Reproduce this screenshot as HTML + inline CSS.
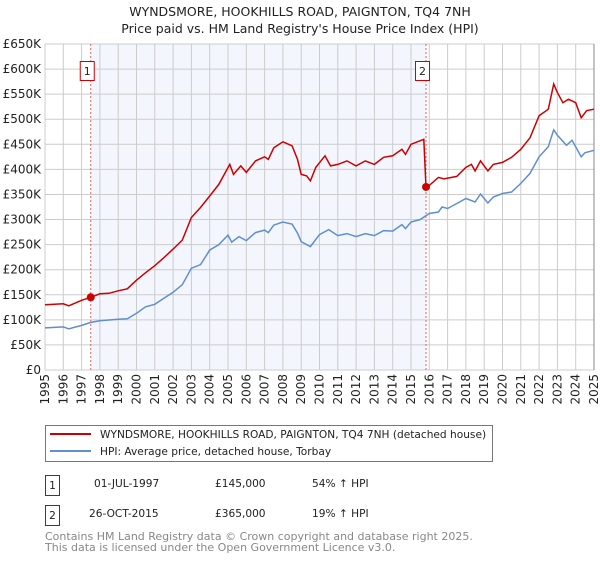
<!DOCTYPE html>
<html><head><meta charset="utf-8"><style>
body{margin:0;background:#fff;font-family:"DejaVu Sans","Liberation Sans",sans-serif;}
svg text{font-family:"DejaVu Sans","Liberation Sans",sans-serif;}
</style></head><body>
<svg id="c" width="600" height="560" viewBox="0 0 600 560" xmlns="http://www.w3.org/2000/svg">
<text x="300" y="16" text-anchor="middle" font-size="12.5" fill="#222">WYNDSMORE, HOOKHILLS ROAD, PAIGNTON, TQ4 7NH</text>
<text x="300" y="33" text-anchor="middle" font-size="12.5" fill="#222">Price paid vs. HM Land Registry's House Price Index (HPI)</text>
<g id="plot"></g>
<g>
<rect x="45.5" y="425.5" width="447" height="36" fill="#fff" stroke="#777"/>
<line x1="50" y1="434" x2="91" y2="434" stroke="#cc0000" stroke-width="2"/>
<text x="100" y="438" font-size="10.6" fill="#222">WYNDSMORE, HOOKHILLS ROAD, PAIGNTON, TQ4 7NH (detached house)</text>
<line x1="50" y1="451" x2="91" y2="451" stroke="#5f8fd0" stroke-width="2"/>
<text x="100" y="455" font-size="10.6" fill="#222">HPI: Average price, detached house, Torbay</text>
</g>
<g font-size="10.6" fill="#222">
<rect x="45.5" y="475.5" width="14" height="20" fill="#fff" stroke="#cc0000"/>
<text x="52.5" y="489" text-anchor="middle">1</text>
<text x="94" y="487">01-JUL-1997</text><text x="215" y="487">£145,000</text><text x="312" y="487">54% ↑ HPI</text>
<rect x="45.5" y="505.5" width="14" height="20" fill="#fff" stroke="#cc0000"/>
<text x="52.5" y="519" text-anchor="middle">2</text>
<text x="89" y="517">26-OCT-2015</text><text x="215" y="517">£365,000</text><text x="312" y="517">19% ↑ HPI</text>
</g>
<text x="45" y="540" font-size="11" fill="#888">Contains HM Land Registry data © Crown copyright and database right 2025.</text>
<text x="45" y="551" font-size="11" fill="#888">This data is licensed under the Open Government Licence v3.0.</text>
</svg>
<script>
const hpiDates=[1995,1996,1996.3,1997,1997.5,1998,1999,1999.5,2000,2000.5,2001,2001.5,2002,2002.5,2003,2003.5,2004,2004.5,2005,2005.2,2005.6,2006,2006.5,2007,2007.2,2007.5,2008,2008.5,2008.8,2009,2009.5,2010,2010.5,2011,2011.5,2012,2012.5,2013,2013.5,2014,2014.5,2014.7,2015,2015.5,2016,2016.5,2016.7,2017,2017.5,2018,2018.5,2018.8,2019.2,2019.5,2020,2020.5,2021,2021.5,2022,2022.5,2022.8,2023,2023.5,2023.8,2024,2024.3,2024.5,2025];
const hpiValues=[84,86,82,89,95,98,101,102,113,126,131,143,155,170,203,210,239,250,269,255,266,258,274,279,274,289,295,291,273,256,246,270,280,268,272,266,272,268,278,277,290,282,295,300,312,315,325,322,332,342,335,351,333,345,352,355,372,392,425,445,479,468,448,458,445,425,433,438];
const priceDates=[1995,1996,1996.3,1997,1997.5,1998,1998.5,1999,1999.5,2000,2000.5,2001,2001.5,2002,2002.5,2003,2003.5,2004,2004.5,2004.9,2005.1,2005.3,2005.7,2006,2006.5,2007,2007.2,2007.5,2008,2008.5,2008.8,2009,2009.3,2009.5,2009.8,2010.3,2010.6,2011,2011.5,2012,2012.5,2013,2013.5,2014,2014.5,2014.7,2015,2015.7,2015.82,2016,2016.5,2016.8,2017.5,2018,2018.3,2018.5,2018.8,2019.2,2019.5,2020,2020.5,2021,2021.5,2022,2022.5,2022.8,2023,2023.3,2023.6,2024,2024.3,2024.6,2025];
const priceValues=[130,132,128,139,145,152,153,158,162,179,194,208,224,241,259,304,324,347,370,397,410,390,407,394,417,425,420,443,455,447,420,390,387,377,404,427,407,410,417,407,417,410,424,427,440,430,450,460,365,368,384,381,386,404,410,397,417,397,410,414,424,440,463,507,520,570,553,533,540,533,503,517,520];
const saleDates=[1997.5,2015.82];
const saleValues=[145,365];
const saleLabels=["1","2"];
const yTicks=[0,50,100,150,200,250,300,350,400,450,500,550,600,650];
const yTickLabels=["£0","£50K","£100K","£150K","£200K","£250K","£300K","£350K","£400K","£450K","£500K","£550K","£600K","£650K"];
const xTicks=[1995,1996,1997,1998,1999,2000,2001,2002,2003,2004,2005,2006,2007,2008,2009,2010,2011,2012,2013,2014,2015,2016,2017,2018,2019,2020,2021,2022,2023,2024,2025];

const NS="http://www.w3.org/2000/svg";
const L=45,R=594,T=44,B=370;
const xs=d=>L+(d-1995)/30*(R-L);
const ys=v=>B-v/650*(B-T);
const g=document.getElementById('plot');
function mk(tag,attrs){const e=document.createElementNS(NS,tag);for(const k in attrs)e.setAttribute(k,attrs[k]);g.appendChild(e);return e;}
const bg=mk('rect',{x:L,y:T,width:R-L,height:B-T,fill:'#fff'});


const sh=mk('rect',{x:xs(saleDates[0]),y:T,width:xs(saleDates[1])-xs(saleDates[0]),height:B-T,fill:'#f3f6fd'});


yTicks.forEach((v,i)=>{
  const ln=mk('line',{x1:L,x2:R,y1:ys(v),y2:ys(v),stroke:'#cccccc','stroke-width':1});
  
  
  const t=mk('text',{x:L-4,y:ys(v)+4,'text-anchor':'end','font-size':12,fill:'#222'});
  t.textContent=yTickLabels[i];
  
  
});
xTicks.forEach(d=>{
  const ln=mk('line',{x1:xs(d),x2:xs(d),y1:T,y2:B,stroke:'#cccccc','stroke-width':1});
  
  
  const t=mk('text',{x:0,y:0,'text-anchor':'end','font-size':12,fill:'#222',transform:`translate(${xs(d)+4},${B+4}) rotate(-90)`});
  t.textContent=String(d);
  
  
});
const ax=mk('line',{x1:R,x2:R,y1:T,y2:B,stroke:'#888','stroke-width':1});


saleDates.forEach((d,i)=>{
  const vl=mk('line',{x1:xs(d),x2:xs(d),y1:T,y2:B,stroke:'#e06060','stroke-width':1,'stroke-dasharray':'2,2'});
  
  
  const bx=mk('rect',{x:xs(d)-10.5,y:61.5,width:14,height:19,fill:'#fff',stroke:'#cc0000'});
  
  
  const t=mk('text',{x:xs(d)-3.5,y:75,'text-anchor':'middle','font-size':11,fill:'#222'});
  t.textContent=saleLabels[i];
  
  
});
function path(dates,vals){return dates.map((d,i)=>(i?'L':'M')+xs(d).toFixed(1)+','+ys(vals[i]).toFixed(1)).join('');}
const hp=mk('path',{d:path(hpiDates,hpiValues),fill:'none',stroke:'#5f8fd0','stroke-width':1.5});


const pp=mk('path',{d:path(priceDates,priceValues),fill:'none',stroke:'#cc0000','stroke-width':1.5});


saleDates.forEach((d,i)=>{
  const c=mk('circle',{cx:xs(d),cy:ys(saleValues[i]),r:4,fill:'#cc0000'});
  
  
});
</script>
</body></html>
